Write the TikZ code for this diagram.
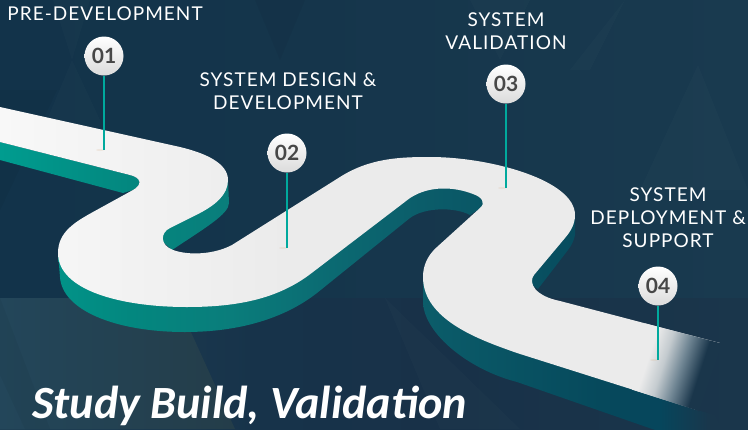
\documentclass[tikz,border=0pt]{standalone}
\usepackage{fontspec}
\setmainfont{Lato}
\newfontfamily\labelfont[LetterSpace=5.5]{Lato}
\newfontfamily\titlefont[Ligatures=Common]{Carlito}
\definecolor{bgend}{HTML}{193A4F}
\definecolor{endc}{HTML}{1A364B}
\definecolor{roadc}{HTML}{EBEBEB}
\definecolor{stemc}{HTML}{00A99D}
\definecolor{wa}{HTML}{009C8F}
\definecolor{wb}{HTML}{03877F}
\definecolor{wc}{HTML}{0A7D7B}
\definecolor{wd}{HTML}{0B6A72}
\definecolor{we}{HTML}{0B5D6A}
\definecolor{wf}{HTML}{06495C}
\definecolor{wg}{HTML}{06465C}
\definecolor{wh}{HTML}{F8F8F8}
\definecolor{fa}{HTML}{C4CBCF}
\definecolor{fb}{HTML}{6F8593}
\definecolor{b1}{HTML}{12334A}
\definecolor{b2}{HTML}{15354B}
\definecolor{c1}{HTML}{1F4054}
\definecolor{c2}{HTML}{17334A}
\definecolor{c3}{HTML}{183148}
\definecolor{c4}{HTML}{1A364B}
\definecolor{d1}{HTML}{23465A}
\definecolor{d2}{HTML}{243D49}
\pgfdeclarehorizontalshading{wallgrad}{100bp}{
  color(0bp)=(wa);color(25bp)=(wa);color(33.7bp)=(wb);color(40.4bp)=(wc);color(47.1bp)=(wd);
  color(53.1bp)=(we);color(65.1bp)=(wf);color(69.1bp)=(wg);color(72.5bp)=(endc);color(100bp)=(endc)}
\pgfdeclarehorizontalshading{topgrad}{100bp}{
  color(0bp)=(wh);color(25bp)=(wh);color(45bp)=(roadc);color(100bp)=(roadc)}
\pgfdeclarehorizontalshading{endgrad}{100bp}{
  color(0bp)=(roadc);color(33bp)=(roadc);color(42bp)=(fa);color(52bp)=(fb);color(63bp)=(endc);color(100bp)=(endc)}
\pgfdeclarehorizontalshading{basegrad}{100bp}{
  color(0bp)=(b1);color(25bp)=(b1);color(45bp)=(b2);color(75bp)=(bgend);color(100bp)=(bgend)}
\pgfdeclarehorizontalshading{lowgrad}{100bp}{
  color(0bp)=(c1);color(25bp)=(c1);color(42bp)=(c2);color(55bp)=(c3);color(75bp)=(c4);color(100bp)=(c4)}
\tikzset{
  stemline/.style={draw=stemc,line width=2.8pt},
  pinball/.style={circle,minimum size=39pt,inner sep=0pt,top color=white,bottom color=black!14,
    text=black!72,font=\fontsize{21}{21}\bfseries\selectfont},
  steplabel/.style={text=white,align=center,inner sep=0pt,font=\fontsize{19}{23}\labelfont\selectfont},
  facet/.style={fill=white,fill opacity=.015,draw=none},
  darkfacet/.style={fill=black,fill opacity=.04,draw=none},
  footmark/.style={fill=brown!60!white,fill opacity=.2,draw=none}
}
\newcommand{\wallshade}{\shade[shading=wallgrad] (0,0) rectangle (748,429);}
\begin{document}
\begin{tikzpicture}[x=1pt,y=-1pt]
\useasboundingbox (0,0) rectangle (748,429);
% background
\shade[shading=basegrad] (0,0) rectangle (748,429);
\shade[shading=lowgrad] (0,298) rectangle (748,429);
\shade[left color=d1,right color=d2] (0,298) -- (158,298) -- (190,330) -- (235,429) -- (0,429) -- cycle;
\fill[facet] (53,0) -- (90,0) -- (72,60) -- cycle;
\fill[facet] (72,60) -- (47,120) -- (100,120) -- cycle;
\fill[darkfacet] (0,210) -- (57,90) -- (0,90) -- cycle;
\fill[darkfacet] (255,0) -- (305,0) -- (280,60) -- cycle;
\fill[facet] (470,0) -- (530,0) -- (500,60) -- cycle;
\fill[facet] (698,65) -- (640,190) -- (748,190) -- cycle;
\fill[facet] (625,0) -- (590,70) -- (570,70) -- cycle;
\fill[facet] (385,298) -- (440,429) -- (520,429) -- cycle;
\fill[darkfacet] (0,298) -- (0,375) -- (25,429) -- (50,429) -- cycle;
% road side walls
\begin{scope}\clip (0,142) -- (130,175) .. controls (142,178) and (142,185) .. (133,190) -- (123,193) -- (0,160) -- cycle; \wallshade\end{scope}
\begin{scope}\clip (228,180) -- (229,203) .. controls (229,214) and (205,228) .. (172,250) -- (150,230) -- (190,190) -- cycle; \wallshade\end{scope}
\begin{scope}\clip (58,253) -- (60,277) .. controls (62,310) and (115,332) .. (185,332) .. controls (240,332) and (285,318) .. (317,293) -- (410,218) .. controls (425,207) and (455,207) .. (470,215) -- (482,207) -- (490,190) -- (400,180) -- (300,250) -- (180,280) -- (80,250) -- cycle; \wallshade\end{scope}
\begin{scope}\clip (575,215) -- (575,235) .. controls (574,240) and (572,245) .. (568,250) -- (538,289) -- (525,280) -- (555,225) -- cycle; \wallshade\end{scope}
\begin{scope}\clip (423,277) -- (423,303) .. controls (425,335) and (470,370) .. (517,382) -- (655,430) -- (722,430) -- (715,415) -- (697,410) -- (517,345) -- (440,280) -- cycle; \wallshade\end{scope}
% road top
\shade[shading=topgrad] (0,107) -- (180,147) .. controls (205,153) and (228,163) .. (228,180)
  .. controls (228,195) and (215,205) .. (200,213) -- (170,228)
  .. controls (160,233) and (160,245) .. (173,250) .. controls (190,256) and (215,254) .. (232,245)
  -- (340,177) .. controls (370,158) and (400,157) .. (430,157) .. controls (490,157) and (575,180) .. (575,215)
  .. controls (575,225) and (570,232) .. (565,238) -- (534,275) .. controls (528,283) and (535,296) .. (560,301)
  -- (720,343) -- (697,410) -- (517,353) .. controls (480,340) and (423,320) .. (423,277)
  .. controls (423,265) and (428,255) .. (437,247) -- (480,208) .. controls (486,203) and (482,197) .. (473,194)
  .. controls (455,187) and (430,185) .. (410,198) -- (313,272) .. controls (280,298) and (240,307) .. (187,307)
  .. controls (120,307) and (58,290) .. (58,253) .. controls (58,232) and (75,222) .. (93,212)
  -- (133,190) .. controls (142,185) and (142,178) .. (130,175) -- (0,142) -- cycle;
% fading far end of the road
\shade[shading=endgrad,shading angle=-18] (645,323.4) -- (722,343.6) -- (699,411) -- (632,389.6) -- cycle;
% pins
\coordinate (f1) at (104,150);
\coordinate (f2) at (287,248);
\coordinate (f3) at (506,188);
\coordinate (f4) at (658,360);
\fill[footmark] (100,150) ellipse (4 and 1);
\fill[footmark] (283,248) ellipse (4 and 1);
\fill[footmark] (502,188) ellipse (4 and 1);
\fill[footmark] (654,360) ellipse (4 and 1);
\node[pinball] (p1) at (104,56) {01};
\node[pinball] (p2) at (287,153) {02};
\node[pinball] (p3) at (506,84) {03};
\node[pinball] (p4) at (658,286) {04};
\draw[stemline] (p1) -- (f1);
\draw[stemline] (p2) -- (f2);
\draw[stemline] (p3) -- (f3);
\draw[stemline] (p4) -- (f4);
% labels
\node[steplabel] (l1) at (105,14) {PRE-DEVELOPMENT};
\node[steplabel] (l2) at (288,91) {SYSTEM DESIGN \&\\DEVELOPMENT};
\node[steplabel] (l3) at (506,31.5) {SYSTEM\\VALIDATION};
\node[steplabel] (l4) at (668,218) {SYSTEM\\DEPLOYMENT \&\\SUPPORT};
\node[anchor=base west,inner sep=0pt,text=white,font=\fontsize{46.2}{46}\titlefont\bfseries\itshape\selectfont] (title) at (32,418) {Study Build, Validation};
\end{tikzpicture}
\end{document}
